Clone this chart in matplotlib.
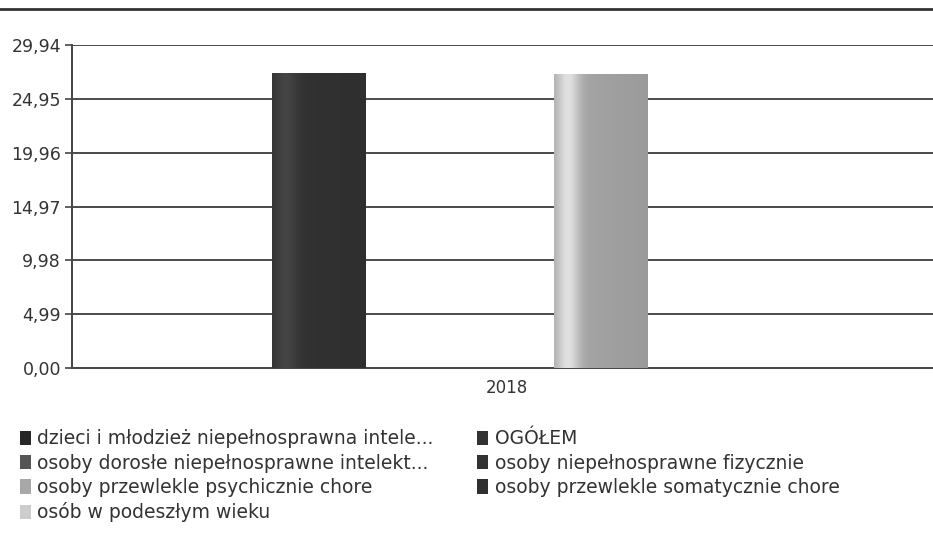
import numpy as np
import matplotlib.pyplot as plt
from matplotlib.colors import to_rgb
from matplotlib.lines import Line2D
from matplotlib.patches import Patch

plt.rcParams["font.family"] = ["DejaVu Sans"]

# data
categories = ["2018"]
series_names = [
    "dzieci i młodzież niepełnosprawna intele...",
    "OGÓŁEM",
    "osoby dorosłe niepełnosprawne intelekt...",
    "osoby niepełnosprawne fizycznie",
    "osoby przewlekle psychicznie chore",
    "osoby przewlekle somatycznie chore",
    "osób w podeszłym wieku",
]
series_values = [0.0, 27.35, 0.0, 0.0, 27.25, 0.0, 0.0]
series_colors = ["#262626", "#333333", "#555555", "#333333", "#a8a8a8", "#303030", "#cccccc"]
y_ticks = [0.00, 4.99, 9.98, 14.97, 19.96, 24.95, 29.94]
legend_order = [0, 2, 4, 6, 1, 3, 5]

W, H = 933, 533
fig = plt.figure(figsize=(W / 100, H / 100), dpi=100)
ax = fig.add_axes([72 / W, 1 - 368 / H, 1 - 72 / W, (368 - 45) / H])

n = len(series_names)
bw = 0.1
x = np.arange(len(categories))
bars = []
for i, (name, val, col) in enumerate(zip(series_names, series_values, series_colors)):
    b = ax.bar(x + (i - (n - 1) / 2) * bw, [val], width=bw, color=col, label=name,
               zorder=3, linewidth=0)
    bars.append(b)

# soft cylinder shading on visible bars
prof = np.linspace(0, 1, 200)
for b, col in zip(bars, series_colors):
    base = np.array(to_rgb(col))
    lum = base.mean()
    shade = np.exp(-((prof - 0.15) / 0.12) ** 2) * 0.35 * lum - prof * 0.08 * lum
    for p in b.patches:
        if p.get_height() <= 0:
            continue
        rgb = np.clip(base[None, :] + shade[:, None], 0, 1)
        img = ax.imshow(rgb[None, :, :], aspect="auto", zorder=4,
                        extent=[p.get_x(), p.get_x() + p.get_width(), 0, p.get_height()])
        img.set_clip_path(p)

ax.set_xlim(-(507 - 72) / 940, (933 - 507) / 940)
ax.set_ylim(0, y_ticks[-1])
ax.set_yticks(y_ticks)
ax.set_yticklabels([f"{v:.2f}".replace(".", ",") for v in y_ticks], fontsize=12.5, color="#333333")
ax.set_xticks(x)
ax.set_xticklabels(categories, fontsize=12, color="#333333")
ax.tick_params(axis="x", length=0, pad=8)
ax.tick_params(axis="y", length=5, width=1.2, color="#444444", pad=3)
ax.yaxis.grid(True, color="#4a4a4a", linewidth=1.4, zorder=2)
ax.set_axisbelow(False)
for s in ["top", "right"]:
    ax.spines[s].set_visible(False)
for s in ["left", "bottom"]:
    ax.spines[s].set_color("#444444")
    ax.spines[s].set_linewidth(1.4)
ax.set_facecolor("white")

# page rule at top
fig.add_artist(Line2D([0, 1], [1 - 9 / H, 1 - 9 / H], color="#333333", linewidth=2))

handles = [Patch(facecolor=series_colors[i], edgecolor="none") for i in legend_order]
labels = [series_names[i] for i in legend_order]
fig.legend(handles, labels, ncol=2, loc="upper left", bbox_to_anchor=(12 / W, 1 - 422 / H),
           frameon=False, fontsize=13.5, handlelength=0.6, handleheight=0.8,
           handletextpad=0.35, columnspacing=2.3, labelspacing=0.28, borderaxespad=0,
           labelcolor="#333333")

fig.savefig("out.png", dpi=100)
